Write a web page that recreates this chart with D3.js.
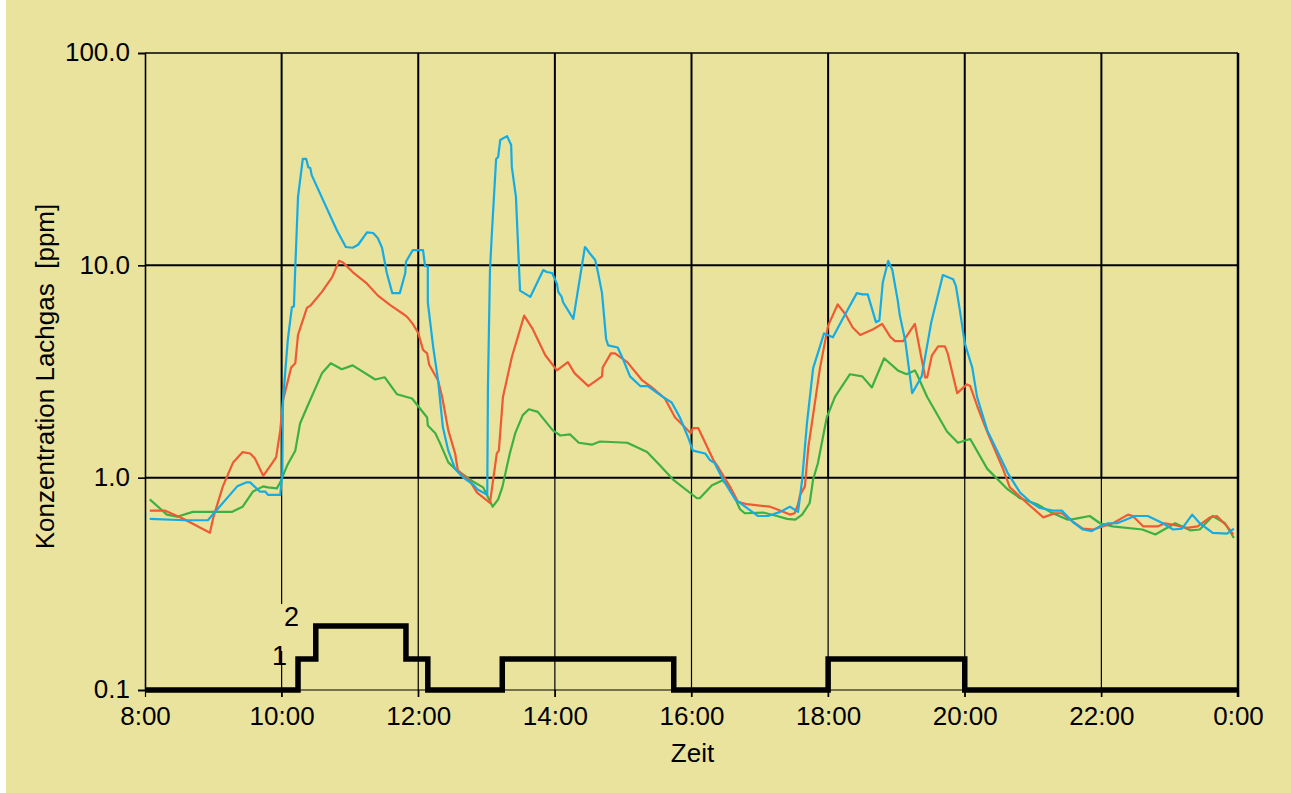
<!DOCTYPE html>
<html>
<head>
<meta charset="utf-8">
<script src="https://cdn.jsdelivr.net/npm/d3@7"></script>
<style>
  html, body { margin: 0; padding: 0; background: #fff; }
  svg { display: block; }
  text { font-family: "Liberation Sans", Arial, Helvetica, sans-serif; fill: #000; }
</style>
</head>
<body>
<div id="chart"></div>
<script>
// Zeitachse in Stunden (24 = 0:00 Uhr)
var xTicks = [8, 10, 12, 14, 16, 18, 20, 22, 24];
var xTickLabels = ["8:00", "10:00", "12:00", "14:00", "16:00", "18:00", "20:00", "22:00", "0:00"];
var yTicks = [100, 10, 1, 0.1];
var yTickLabels = ["100.0", "10.0", "1.0", "0.1"];

// Lachgas-Konzentration [ppm], [Uhrzeit, Wert]
var blau = [
  [8.07,0.64],[8.59,0.63],[8.92,0.63],[9.35,0.91],[9.48,0.95],[9.54,0.95],[9.68,0.86],[9.76,0.86],
  [9.80,0.83],[9.98,0.83],[10.01,1.05],[10.02,2.31],[10.09,4.44],[10.15,6.34],[10.18,6.4],[10.20,9.8],
  [10.24,21.0],[10.31,31.7],[10.36,31.7],[10.39,29.0],[10.42,28.7],[10.44,26.6],[10.81,14.6],[10.94,12.2],
  [11.04,12.1],[11.12,12.5],[11.25,14.3],[11.34,14.2],[11.41,13.4],[11.47,12.1],[11.54,9.2],[11.62,7.4],
  [11.73,7.4],[11.81,9.2],[11.82,10.4],[11.92,11.8],[12.07,11.8],[12.10,9.9],[12.14,9.9],[12.14,6.7],
  [12.22,4.1],[12.29,2.87],[12.36,1.73],[12.44,1.34],[12.54,1.10],[12.66,1.0],[12.80,0.93],[12.87,0.88],
  [13.01,0.83],[13.02,2.66],[13.05,9.5],[13.08,14.6],[13.14,31.7],[13.17,32.4],[13.20,38.9],[13.30,40.6],
  [13.36,36.9],[13.37,29.0],[13.43,21.0],[13.49,7.6],[13.64,7.1],[13.83,9.5],[13.88,9.3],[13.96,9.2],
  [14.03,8.2],[14.05,7.5],[14.10,7.1],[14.12,6.7],[14.27,5.6],[14.44,12.2],[14.47,11.9],[14.51,11.4],
  [14.59,10.6],[14.63,9.3],[14.69,7.4],[14.75,4.5],[14.78,4.2],[14.92,4.1],[15.00,3.6],[15.10,3.0],
  [15.25,2.7],[15.36,2.7],[15.58,2.4],[15.71,2.26],[15.79,2.03],[15.83,1.92],[15.95,1.55],[16.02,1.34],
  [16.20,1.30],[16.27,1.21],[16.34,1.17],[16.46,0.98],[16.64,0.79],[16.81,0.72],[16.97,0.66],[17.12,0.66],
  [17.30,0.69],[17.44,0.73],[17.56,0.69],[17.62,0.98],[17.69,1.80],[17.78,3.27],[17.94,4.78],[18.07,4.58],
  [18.20,5.5],[18.42,7.4],[18.50,7.3],[18.58,7.3],[18.70,5.4],[18.75,5.5],[18.80,8.3],[18.88,10.5],
  [18.94,9.5],[19.02,6.8],[19.05,5.8],[19.13,4.4],[19.23,2.5],[19.37,3.0],[19.51,5.4],[19.68,9.0],
  [19.83,8.6],[19.87,8.0],[19.93,6.1],[20.00,4.3],[20.11,3.3],[20.18,2.4],[20.33,1.67],[20.59,1.12],
  [20.63,1.05],[20.81,0.85],[20.96,0.77],[21.10,0.72],[21.29,0.70],[21.42,0.70],[21.58,0.62],[21.73,0.57],
  [21.86,0.56],[21.98,0.59],[22.10,0.61],[22.23,0.61],[22.49,0.66],[22.68,0.66],[22.90,0.61],[23.05,0.57],
  [23.18,0.575],[23.33,0.67],[23.44,0.61],[23.63,0.55],[23.84,0.545],[23.94,0.575]
];

var rot = [
  [8.07,0.70],[8.29,0.70],[8.56,0.64],[8.95,0.55],[9.00,0.65],[9.14,0.91],[9.29,1.18],[9.43,1.32],
  [9.54,1.30],[9.61,1.23],[9.73,1.02],[9.87,1.18],[9.92,1.25],[9.98,1.67],[10.02,2.31],[10.14,3.3],
  [10.20,3.46],[10.24,4.7],[10.37,6.3],[10.43,6.5],[10.59,7.5],[10.74,8.8],[10.84,10.5],[10.90,10.3],
  [11.04,9.3],[11.25,8.2],[11.41,7.2],[11.59,6.5],[11.78,5.9],[11.84,5.7],[11.92,5.3],[12.00,4.8],
  [12.07,4.0],[12.13,3.85],[12.16,3.4],[12.29,2.87],[12.35,2.4],[12.44,1.67],[12.54,1.30],[12.58,1.08],
  [12.76,0.96],[12.86,0.85],[13.05,0.76],[13.15,1.30],[13.18,1.34],[13.24,2.4],[13.37,3.7],[13.55,5.8],
  [13.67,5.05],[13.86,3.77],[14.03,3.2],[14.19,3.5],[14.29,3.1],[14.49,2.7],[14.69,3.0],[14.70,3.3],
  [14.82,3.85],[14.88,3.85],[15.06,3.5],[15.28,2.87],[15.42,2.66],[15.61,2.36],[15.76,1.92],[15.99,1.62],
  [16.02,1.71],[16.10,1.71],[16.32,1.21],[16.39,1.12],[16.56,0.91],[16.68,0.77],[16.81,0.75],[17.15,0.73],
  [17.25,0.71],[17.44,0.67],[17.51,0.68],[17.56,0.75],[17.59,0.83],[17.66,0.91],[17.71,1.39],[17.78,1.97],
  [17.88,3.27],[18.00,5.2],[18.14,6.55],[18.25,5.9],[18.36,5.1],[18.47,4.7],[18.66,5.0],[18.79,5.3],
  [18.91,4.6],[18.98,4.4],[19.10,4.4],[19.27,5.3],[19.42,2.97],[19.45,2.97],[19.52,3.77],[19.61,4.15],
  [19.71,4.15],[19.75,3.85],[19.89,2.5],[20.03,2.75],[20.08,2.7],[20.19,2.14],[20.33,1.64],[20.55,1.12],
  [20.66,0.90],[20.91,0.76],[21.15,0.65],[21.32,0.68],[21.42,0.68],[21.58,0.62],[21.73,0.575],[21.88,0.57],
  [22.17,0.61],[22.39,0.67],[22.46,0.66],[22.61,0.59],[22.83,0.59],[22.93,0.61],[23.05,0.60],[23.25,0.58],
  [23.41,0.59],[23.59,0.65],[23.69,0.66],[23.84,0.59],[23.93,0.54]
];

var gruen = [
  [8.07,0.79],[8.32,0.67],[8.47,0.655],[8.70,0.69],[9.27,0.69],[9.43,0.73],[9.58,0.86],[9.73,0.91],
  [9.80,0.90],[9.93,0.89],[9.98,0.95],[10.08,1.14],[10.20,1.34],[10.27,1.80],[10.37,2.14],[10.59,3.1],
  [10.72,3.46],[10.88,3.24],[11.04,3.38],[11.37,2.9],[11.51,2.97],[11.69,2.47],[11.91,2.36],[12.13,1.92],
  [12.14,1.76],[12.25,1.62],[12.32,1.45],[12.44,1.18],[12.54,1.10],[12.80,0.96],[12.95,0.90],[13.02,0.81],
  [13.09,0.73],[13.17,0.79],[13.23,0.90],[13.34,1.30],[13.42,1.62],[13.53,1.97],[13.62,2.10],[13.75,2.04],
  [13.97,1.67],[14.08,1.58],[14.22,1.60],[14.35,1.46],[14.54,1.43],[14.66,1.48],[15.06,1.46],[15.35,1.32],
  [15.54,1.14],[15.73,0.98],[16.08,0.80],[16.12,0.80],[16.30,0.92],[16.45,0.97],[16.56,0.91],[16.71,0.71],
  [16.78,0.68],[17.05,0.685],[17.25,0.66],[17.40,0.64],[17.52,0.635],[17.62,0.67],[17.73,0.76],[17.78,0.98],
  [17.85,1.17],[17.98,1.92],[18.10,2.4],[18.32,3.07],[18.50,3.0],[18.64,2.66],[18.82,3.65],[19.02,3.2],
  [19.15,3.07],[19.27,3.2],[19.30,3.07],[19.45,2.4],[19.74,1.65],[19.90,1.46],[20.08,1.52],[20.33,1.10],
  [20.63,0.88],[20.81,0.80],[21.06,0.75],[21.25,0.69],[21.50,0.635],[21.61,0.64],[21.83,0.66],[21.98,0.61],
  [22.16,0.59],[22.60,0.57],[22.79,0.54],[23.08,0.61],[23.30,0.565],[23.44,0.57],[23.63,0.66],[23.81,0.61],
  [23.94,0.52]
];

// Betriebsstufe (0, 1, 2) als Treppenlinie
var stufeZeit = [8, 10.24, 10.50, 11.82, 12.14, 13.23, 15.74, 18.0, 20.0, 24];
var stufe     = [0, 1, 2, 1, 0, 1, 0, 1, 0, 0];
var stufePpm  = [0.1, 0.14, 0.2];

var width = 1291, height = 793;
var bg = "#e9e39e";

var svg = d3.select("#chart").append("svg")
  .attr("width", width).attr("height", height);

svg.append("rect").attr("width", width).attr("height", height).attr("fill", bg);
svg.append("rect").attr("width", 6).attr("height", height).attr("fill", "#fff");

var x = d3.scaleLinear().domain([8, 24]).range([145, 1238]);
var y = d3.scaleLog().domain([0.1, 100]).range([690, 53]);

var grid = svg.append("g");

// senkrechte Gitterlinien, oberer Teil dick, unterer Teil duenn
grid.selectAll(".vtop").data(xTicks.slice(1, -1)).enter().append("line")
  .attr("x1", d => x(d)).attr("x2", d => x(d))
  .attr("y1", y(100)).attr("y2", y(1))
  .attr("stroke", "#000").attr("stroke-width", 2);
grid.selectAll(".vbot").data(xTicks.slice(1, -1)).enter().append("line")
  .attr("x1", d => x(d)).attr("x2", d => x(d))
  .attr("y1", y(1)).attr("y2", y(0.1) + 7)
  .attr("stroke", "#000").attr("stroke-width", 1.2);

// waagrechte Gitterlinien
grid.selectAll(".h").data([10, 1]).enter().append("line")
  .attr("x1", x(8)).attr("x2", x(24))
  .attr("y1", d => y(d)).attr("y2", d => y(d))
  .attr("stroke", "#000").attr("stroke-width", 2);
grid.append("line")
  .attr("x1", x(8)).attr("x2", x(24)).attr("y1", y(100)).attr("y2", y(100))
  .attr("stroke", "#000").attr("stroke-width", 1.5);
grid.append("line")
  .attr("x1", x(8)).attr("x2", x(24)).attr("y1", y(0.1)).attr("y2", y(0.1))
  .attr("stroke", "#000").attr("stroke-width", 1.2);
// rechter Rand
grid.append("line")
  .attr("x1", x(24)).attr("x2", x(24)).attr("y1", y(100)).attr("y2", y(0.1) + 7)
  .attr("stroke", "#000").attr("stroke-width", 2.5);

// Achsen
var yAxis = d3.axisLeft(y).tickValues(yTicks)
  .tickFormat((d, i) => yTickLabels[i]).tickSize(7).tickPadding(8);
var gy = svg.append("g").attr("transform", "translate(" + x(8) + ",0)").call(yAxis);
gy.select(".domain").attr("stroke-width", 1.6);
gy.selectAll(".tick line").attr("stroke-width", 1.6);
gy.selectAll(".tick text").attr("font-size", 26).attr("dy", "0.30em")
  .style("font-family", "'Liberation Sans', Arial, sans-serif");

var xAxis = d3.axisBottom(x).tickValues(xTicks)
  .tickFormat((d, i) => xTickLabels[i]).tickSize(7).tickPadding(10);
var gx = svg.append("g").attr("transform", "translate(0," + y(0.1) + ")").call(xAxis);
gx.select(".domain").remove();
gx.selectAll(".tick line").attr("stroke-width", 1.2);
gx.selectAll(".tick text").attr("font-size", 26)
  .style("font-family", "'Liberation Sans', Arial, sans-serif");

// Achsentitel
svg.append("text")
  .attr("transform", "translate(54," + ((y(100) + y(0.1)) / 2 + 5) + ") rotate(-90)")
  .attr("text-anchor", "middle").attr("font-size", 26)
  .text("Konzentration Lachgas \u00a0[ppm]");
svg.append("text")
  .attr("x", (x(8) + x(24)) / 2 + 1).attr("y", 762)
  .attr("text-anchor", "middle").attr("font-size", 26)
  .text("Zeit");

// Kurven
var line = d3.line().x(d => x(d[0])).y(d => y(d[1]));
[[gruen, "#3db043"], [rot, "#ee5a33"], [blau, "#14ace6"]].forEach(function (s) {
  svg.append("path").datum(s[0])
    .attr("d", line)
    .attr("fill", "none")
    .attr("stroke", s[1])
    .attr("stroke-width", 2.2)
    .attr("stroke-linejoin", "round");
});

// Beschriftung der Stufen (Gitterlinie dahinter ausgespart)
svg.append("rect")
  .attr("x", x(10) - 4).attr("y", y(stufePpm[2]) - 22)
  .attr("width", 8).attr("height", y(stufePpm[1]) - y(stufePpm[2]) + 14)
  .attr("fill", bg);
var stufenText = [[1, x(10) - 2, 6], [2, x(10) + 10, 0]];
stufenText.forEach(function (s) {
  svg.append("text").attr("x", s[1]).attr("y", y(stufePpm[s[0]]) + s[2])
    .attr("text-anchor", "middle").attr("font-size", 27).text(s[0]);
});

// Treppenlinie
var stufenDaten = stufeZeit.map((t, i) => [t, stufePpm[stufe[i]]]);
var stepLine = d3.line().x(d => x(d[0])).y(d => y(d[1])).curve(d3.curveStepAfter);
svg.append("path").datum(stufenDaten)
  .attr("d", stepLine)
  .attr("fill", "none")
  .attr("stroke", "#000")
  .attr("stroke-width", 5.5)
  .attr("stroke-linejoin", "miter");
</script>
</body>
</html>
